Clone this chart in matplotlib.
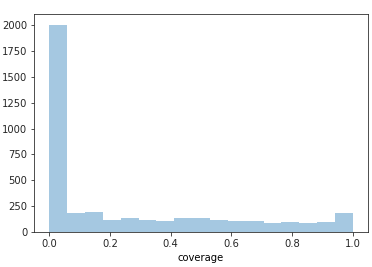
import numpy as np
import matplotlib
matplotlib.use('Agg')
import matplotlib.pyplot as plt

# histogram of coverage, 17 equal bins on [0, 1]
n_bins = 17
bin_counts = [2002, 187, 193, 116, 135, 116, 106, 135, 135, 116,
              106, 106, 87, 97, 87, 97, 187]
x_label = 'coverage'

edges = np.linspace(0, 1, n_bins + 1)
centers = 0.5 * (edges[:-1] + edges[1:])

fig = plt.figure(figsize=(372 / 72, 267 / 72), dpi=72)
ax = fig.add_axes([0.092, 0.131, 0.897, 0.815])
ax.hist(centers, bins=edges, weights=bin_counts, color='#1f77b4', alpha=0.4)
ax.set_xlabel(x_label)
ax.set_xticks([0.0, 0.2, 0.4, 0.6, 0.8, 1.0])
ax.set_yticks(range(0, 2001, 250))
for sp in ax.spines.values():
    sp.set_color('#262626')
ax.tick_params(colors='#262626')
fig.savefig('out.png', dpi=72)
plt.close(fig)
